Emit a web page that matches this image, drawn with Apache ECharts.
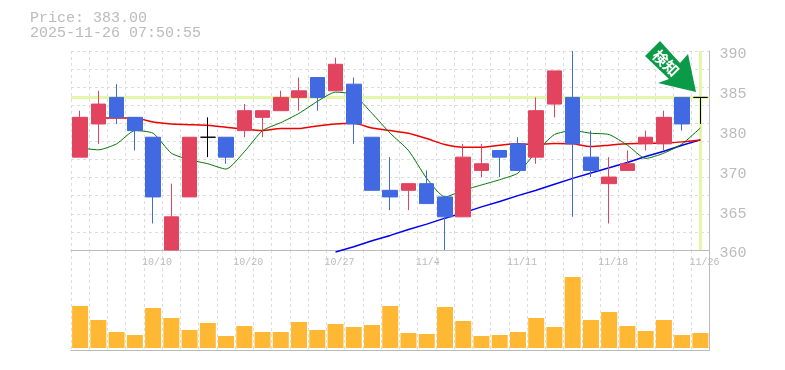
<!DOCTYPE html>
<html><head><meta charset="utf-8">
<style>html,body{margin:0;padding:0;background:#fff}#c{width:785px;height:370px}</style>
<script src="https://cdn.jsdelivr.net/npm/echarts@6/dist/echarts.min.js"></script>
</head><body><div id="c"></div>
<script>
const titleLines = ['Price: 383.00', '2025-11-26 07:50:55'];
const dates = ['10/6','10/7','10/8','10/9','10/10','10/14','10/15','10/16','10/17','10/20','10/21','10/22','10/23','10/24','10/27','10/28','10/29','10/30','10/31','11/4','11/5','11/6','11/7','11/10','11/11','11/12','11/13','11/14','11/17','11/18','11/19','11/20','11/21','11/25','11/26'];
const dateLabels = ['10/10','10/20','10/27','11/4','11/11','11/18','11/26'];
const priceLabels = {360:'360',366:'365',372:'370',378:'380',384:'385',390:'390'};
const opens  = [374,379,383,380,377,360,368,377,377,378,380,381,383,386,384,385,377,369,369,370,368,365,372,375,376,374,382,383,374,370,372,376,376,383,383];
const closes = [380,382,380,378,368,365,377,377,374,381,381,383,384,383,388,379,369,368,370,367,365,374,373,374,372,381,387,376,372,371,373,377,380,379,383];
const lows   = [374,376,379,375,364,360,368,374,373,377,377,381,381,381,384,376,369,366,366,367,360,365,371,371,372,373,380,365,371,364,372,375,375,378,379];
const highs  = [381,384,385,380,377,370,377,380,377,382,381,384,386,386,389,386,377,374,370,372,368,376,376,375,377,383,387,390,378,374,375,378,381,383,383];
const ma5  = [375.4,375.1,376,378,377.6,374.6,373.6,373,372.2,374.8,378,379.2,380.6,382.4,383.8,383.4,380.6,377.6,375,370.8,368,369,369.8,370.6,371.6,374.8,377.4,378,377.6,377.4,375.8,373.8,374.6,376,378.4];
const ma25 = [null,379.9,379.9,379.9,379.3,379,378.9,378.8,378.5,378.2,378,378.3,378.3,378.7,379,379.1,378.4,378,377.6,376.8,375.9,375.5,375.5,375.8,376,375.9,376.05,376,375.6,375.8,376,376.1,376.1,376.3,376.6];
const ma75 = [null,null,null,null,null,null,null,null,null,null,null,null,null,null,359.7,360.5,361.4,362.2,363.1,363.9,364.8,365.6,366.5,367.3,368.2,369,369.9,370.8,371.6,372.4,373.2,374.1,374.9,375.8,376.6];
const volumes = [42,28,16,13,40,30,18,25,12,22,16,16,26,18,24,21,23,42,15,14,41,27,12,13,16,30,21,71,28,36,22,17,28,13,15];
const lastPrice = 383;
const lastDate = '11/26';

const axisGray = '#bbbbbb', gridGray = '#dddddd', textGray = '#bbbbbb';
const mono = '"Liberation Mono", monospace';
const dash = {color: gridGray, type: [3, 3], width: 1};
const candles = dates.map((d, i) => [opens[i], closes[i], lows[i], highs[i]]);
const chart = echarts.init(document.getElementById('c'));
const lineBase = {type: 'line', xAxisIndex: 0, yAxisIndex: 0, symbol: 'none', smooth: 0.2, clip: false, z: 2, silent: true};
chart.setOption({
  animation: false,
  title: {text: titleLines.join('\n'), left: 30, top: 11, padding: 0, textStyle: {fontFamily: mono, fontSize: 15, fontWeight: 'normal', color: textGray, lineHeight: 15}},
  grid: [
    {left: 71, width: 638.5, top: 51, height: 199},
    {left: 71, width: 638.5, top: 250, height: 100}
  ],
  xAxis: [
    {type: 'category', gridIndex: 0, data: dates, boundaryGap: true,
     axisLine: {show: false}, axisTick: {show: false}, axisLabel: {show: false},
     splitLine: {show: true, interval: 0, lineStyle: dash}},
    {type: 'category', gridIndex: 1, data: dates, boundaryGap: true, position: 'bottom',
     axisLine: {show: true, onZero: false, lineStyle: {color: axisGray, width: 1}}, axisTick: {show: false},
     axisLabel: {show: false},
     splitLine: {show: true, interval: 0, lineStyle: dash}},
    {type: 'category', gridIndex: 1, data: dates, boundaryGap: true, position: 'top',
     axisLine: {show: true, onZero: false, lineStyle: {color: axisGray, width: 1}}, axisTick: {show: false},
     axisLabel: {show: true, inside: true, interval: 0, margin: 7, align: 'left', padding: [0, 0, 0, -11],
       fontFamily: mono, fontSize: 10, color: textGray, hideOverlap: false,
       formatter: v => dateLabels.includes(v) ? v : ''},
     splitLine: {show: false}}
  ],
  yAxis: [
    {type: 'value', gridIndex: 0, position: 'right', min: 360, max: 390, interval: 6,
     axisLine: {show: true, lineStyle: {color: axisGray, width: 1}}, axisTick: {show: false},
     axisLabel: {margin: 10, fontFamily: mono, fontSize: 15, color: textGray, verticalAlign: 'top', lineHeight: 7,
       formatter: v => priceLabels[v]},
     splitLine: {show: false}},
    {type: 'value', gridIndex: 0, min: 0, max: 11, interval: 1, position: 'left',
     axisLine: {show: false}, axisTick: {show: false}, axisLabel: {show: false},
     splitLine: {show: true, lineStyle: dash}},
    {type: 'value', gridIndex: 1, min: -2, max: 98, position: 'right',
     axisLine: {show: true, lineStyle: {color: axisGray, width: 1}}, axisTick: {show: false},
     axisLabel: {show: false}, splitLine: {show: false}}
  ],
  series: [
    {...lineBase, name: 'MA75', data: ma75, smooth: false, lineStyle: {color: '#0000ee', width: 1.5},
     markLine: {silent: true, symbol: 'none', z: 1, label: {show: false}, animation: false,
       lineStyle: {color: '#e4f6a9', width: 3, type: 'solid'},
       data: [{yAxis: lastPrice}, {xAxis: lastDate}]}},
    {...lineBase, name: 'MA25', data: ma25, lineStyle: {color: '#ee0000', width: 1.5}, connectNulls: false},
    {...lineBase, name: 'MA5', data: ma5, lineStyle: {color: '#007700', width: 1}},
    {type: 'candlestick', name: 'price', xAxisIndex: 0, yAxisIndex: 0, data: candles, barWidth: 15, clip: false, z: 3,
     itemStyle: {color: '#e2435f', color0: '#4169e1', borderColor: '#e2435f', borderColor0: '#4169e1', borderColorDoji: '#000000', borderWidth: 1}},
    {type: 'bar', name: 'volume', xAxisIndex: 1, yAxisIndex: 2, data: volumes, barWidth: 16, itemStyle: {color: '#ffb833'}}
  ],
  graphic: [
    {type: 'polygon', z: 20, shape: {points: [[660,41],[645,56],[669,79],[658,83],[696,92],[688,54],[680,63]]}, style: {fill: '#0b9a48'}},
    {type: 'text', z: 21, x: 666, y: 63, rotation: -Math.PI/4, style: {text: '検知', fill: '#ffffff', fontSize: 15, fontWeight: 'bold', fontFamily: '"Noto Sans CJK JP"', align: 'center', verticalAlign: 'middle'}}
  ]
});
</script></body></html>
